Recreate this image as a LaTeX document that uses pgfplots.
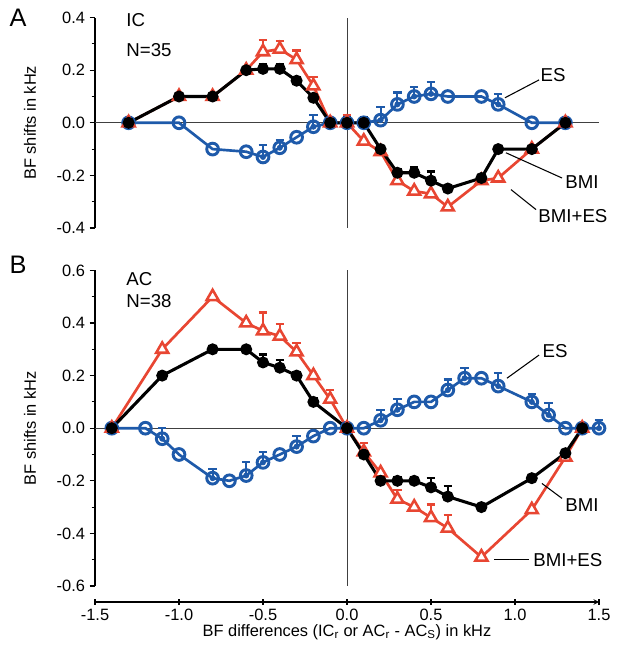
\documentclass[border=0pt]{standalone}
\usepackage{fontspec}
\setmainfont{Liberation Sans}
\usepackage{pgfplots}
\pgfplotsset{compat=1.18}
\definecolor{esBlue}{RGB}{30,90,170}
\definecolor{mixRed}{RGB}{232,70,50}

\tikzset{lead/.style={black, line width=0.8pt}}

\pgfplotsset{
  bfpanel/.style={
    x=126pt, y=197.25pt,
    xmin=-1.5, xmax=1.5,
    set layers, mark layer=axis foreground,
    axis y line=left,
    axis line style={-, line width=0.8pt},
    minor y tick num=1,
    tick align=outside,
    major tick length=4pt, minor tick length=2.5pt,
    tick style={line width=0.8pt, black},
    yticklabel style={/pgf/number format/.cd, fixed, fixed zerofill, precision=1, assume math mode=true},
    tick label style={font=\fontsize{12.3}{14}\selectfont},
    label style={font=\fontsize{12.3}{14}\selectfont},
    ylabel={BF shifts in kHz},
    ylabel style={at={(axis description cs:-0.129,0.5)}, anchor=center},
    clip=false,
  },
  zeroline/.style={forget plot, black!75, line width=0.7pt, mark=none},
  es/.style={esBlue, line width=2pt, mark=o, mark size=4.4pt, mark options={fill=white, solid, line width=2.2pt}},
  mix/.style={mixRed, line width=2pt, mark=triangle*, mark size=5.2pt, mark options={fill=white, solid, line width=1.9pt}},
  bmi/.style={black, line width=2.3pt, mark=*, mark size=4pt, mark options={line width=1pt}},
  errs/.style={only marks, mark=none, forget plot,
    error bars/.cd, y dir=plus, y explicit,
    error bar style={line width=1.6pt},
    error mark options={rotate=90, mark size=3.2pt, line width=1.6pt}},
}

\begin{document}
\begin{tikzpicture}[font=\fontsize{14}{16}\selectfont]

% ---------------- panel A (IC) ----------------
\begin{axis}[bfpanel,
  at={(0,268.5pt)}, anchor=south west,
  axis x line=none,
  ymin=-0.4, ymax=0.4,
  ytick={-0.4,-0.2,0,0.2,0.4},
]
\addplot[zeroline] coordinates {(-1.5,0) (1.5,0)};
\addplot[zeroline] coordinates {(0,-0.4) (0,0.4)};

% ES
\addplot[esBlue, errs] table[x index=0, y index=1, y error index=2] {
-0.5 -0.13 0.045
-0.4 -0.095 0.03
-0.2 -0.015 0.045
0.2 0.01 0.05
0.3 0.07 0.045
0.4 0.10 0.035
0.5 0.11 0.045
0.9 0.07 0.04
};
\addplot[es] coordinates {
(-1.3,0) (-1.0,0) (-0.8,-0.10) (-0.6,-0.11) (-0.5,-0.13) (-0.4,-0.095)
(-0.3,-0.055) (-0.2,-0.015) (-0.1,0) (0.0,0) (0.1,0) (0.2,0.01)
(0.3,0.07) (0.4,0.10) (0.5,0.11) (0.6,0.10) (0.8,0.10) (0.9,0.07)
(1.1,0) (1.3,0)
};

% BMI+ES
\addplot[mixRed, errs] table[x index=0, y index=1, y error index=2] {
-0.5 0.27 0.045
-0.4 0.28 0.03
-0.3 0.24 0.035
-0.2 0.14 0.035
0.0 0.0 0.03
};
\addplot[mix] coordinates {
(-1.3,0) (-1.0,0.1) (-0.8,0.1) (-0.6,0.2) (-0.5,0.27) (-0.4,0.28)
(-0.3,0.24) (-0.2,0.14) (-0.1,0) (0.0,0) (0.1,-0.07) (0.2,-0.11)
(0.3,-0.22) (0.4,-0.26) (0.5,-0.27) (0.6,-0.32) (0.8,-0.22) (0.9,-0.21)
(1.1,-0.10) (1.3,0)
};

% BMI
\addplot[black, errs] table[x index=0, y index=1, y error index=2] {
-0.5 0.205 0.02
-0.4 0.205 0.02
-0.3 0.16 0.015
0.0 0.0 0.02
0.1 0.0 0.02
0.3 -0.19 0.015
0.4 -0.19 0.02
0.5 -0.22 0.035
};
\addplot[bmi] coordinates {
(-1.3,0) (-1.0,0.1) (-0.8,0.1) (-0.6,0.2) (-0.5,0.205) (-0.4,0.205)
(-0.3,0.16) (-0.2,0.095) (-0.1,0) (0.0,0) (0.1,0) (0.2,-0.10)
(0.3,-0.19) (0.4,-0.19) (0.5,-0.22) (0.6,-0.25) (0.8,-0.21) (0.9,-0.10)
(1.1,-0.10) (1.3,0)
};

\node[anchor=west] at (axis description cs:0.053,0.986) {IC};
\node[anchor=west] at (axis description cs:0.053,0.844) {N=35};

\draw[lead] (axis cs:1.143,0.163) -- (axis cs:0.94,0.095);
\node[anchor=west, inner sep=1pt] at (axis cs:1.143,0.18) {ES};
\draw[lead] (axis cs:1.28,-0.21) -- (axis cs:0.946,-0.114);
\node[anchor=west, inner sep=1pt] at (axis cs:1.29,-0.227) {BMI};
\draw[lead] (axis cs:1.125,-0.33) -- (axis cs:0.976,-0.254);
\node[anchor=west, inner sep=1pt] at (axis cs:1.13,-0.356) {BMI+ES};
\end{axis}

% ---------------- panel B (AC) ----------------
\begin{axis}[bfpanel,
  at={(0,0)}, anchor=south west,
  axis x line=bottom,
  axis x line shift=12pt,
  ymin=-0.6, ymax=0.6,
  ytick={-0.6,-0.4,-0.2,0,0.2,0.4,0.6},
  xtick={-1.5,-1,-0.5,0,0.5,1,1.5},
  xticklabel style={/pgf/number format/.cd, fixed, fixed zerofill, precision=1, assume math mode=true},
  xlabel={BF differences (IC\textsubscript{r} or AC\textsubscript{r} - AC\textsubscript{S}) in kHz},
  xlabel style={at={(axis description cs:0.5,-0.146)}, anchor=center},
]
\addplot[zeroline] coordinates {(-1.5,0) (1.5,0)};
\addplot[zeroline] coordinates {(0,-0.6) (0,0.6)};

% ES
\addplot[esBlue, errs] table[x index=0, y index=1, y error index=2] {
-1.1 -0.04 0.04
-0.8 -0.19 0.035
-0.6 -0.18 0.05
-0.5 -0.13 0.04
-0.3 -0.07 0.04
0.2 0.03 0.04
0.3 0.07 0.04
0.6 0.145 0.04
0.7 0.19 0.04
0.9 0.16 0.05
1.1 0.10 0.03
1.2 0.05 0.045
1.5 0.0 0.03
};
\addplot[es] coordinates {
(-1.4,0) (-1.2,0) (-1.1,-0.04) (-1.0,-0.10) (-0.8,-0.19) (-0.7,-0.20)
(-0.6,-0.18) (-0.5,-0.13) (-0.4,-0.10) (-0.3,-0.07) (-0.2,-0.03) (-0.1,0)
(0.0,0) (0.1,0) (0.2,0.03) (0.3,0.07) (0.4,0.10) (0.5,0.10)
(0.6,0.145) (0.7,0.19) (0.8,0.19) (0.9,0.16) (1.1,0.10) (1.2,0.05)
(1.3,0) (1.4,0) (1.5,0)
};

% BMI+ES
\addplot[mixRed, errs] table[x index=0, y index=1, y error index=2] {
-0.5 0.37 0.07
-0.4 0.35 0.045
-0.3 0.29 0.035
-0.1 0.11 0.035
0.1 -0.09 0.035
0.3 -0.27 0.035
0.5 -0.34 0.05
0.6 -0.38 0.05
};
\addplot[mix] coordinates {
(-1.4,0) (-1.1,0.30) (-0.8,0.50) (-0.6,0.40) (-0.5,0.37) (-0.4,0.35)
(-0.3,0.29) (-0.2,0.20) (-0.1,0.11) (0.0,0) (0.1,-0.09) (0.2,-0.17)
(0.3,-0.27) (0.4,-0.30) (0.5,-0.34) (0.6,-0.38) (0.8,-0.49) (1.1,-0.31)
(1.3,-0.11) (1.4,0)
};

% BMI
\addplot[black, errs] table[x index=0, y index=1, y error index=2] {
-0.5 0.25 0.03
-0.4 0.23 0.03
-0.3 0.20 0.015
-0.2 0.10 0.015
0.1 -0.10 0.015
0.3 -0.20 0.015
0.4 -0.20 0.015
0.5 -0.225 0.035
0.6 -0.26 0.04
};
\addplot[bmi] coordinates {
(-1.4,0) (-1.1,0.20) (-0.8,0.30) (-0.6,0.30) (-0.5,0.25) (-0.4,0.23)
(-0.3,0.20) (-0.2,0.10) (0.0,0) (0.1,-0.10) (0.2,-0.20) (0.3,-0.20)
(0.4,-0.20) (0.5,-0.225) (0.6,-0.26) (0.8,-0.30) (1.1,-0.19) (1.3,-0.095)
(1.4,0)
};

\node[anchor=west] at (axis description cs:0.053,0.971) {AC};
\node[anchor=west] at (axis description cs:0.053,0.902) {N=38};

\draw[lead] (axis cs:1.143,0.278) -- (axis cs:0.952,0.19);
\node[anchor=west, inner sep=1pt] at (axis cs:1.155,0.293) {ES};
\draw[lead] (axis cs:1.28,-0.267) -- (axis cs:1.16,-0.21);
\node[anchor=west, inner sep=1pt] at (axis cs:1.29,-0.293) {BMI};
\draw[lead] (axis cs:1.083,-0.50) -- (axis cs:0.875,-0.50);
\node[anchor=west, inner sep=1pt] at (axis cs:1.10,-0.50) {BMI+ES};
\end{axis}

\node[font=\fontsize{19}{21}\selectfont] at (-57.75pt,426pt) {A};
\node[font=\fontsize{19}{21}\selectfont] at (-57.75pt,240.75pt) {B};
\path (-71.25pt,-51.75pt) rectangle (394.5pt,439.5pt);
\end{tikzpicture}
\end{document}
